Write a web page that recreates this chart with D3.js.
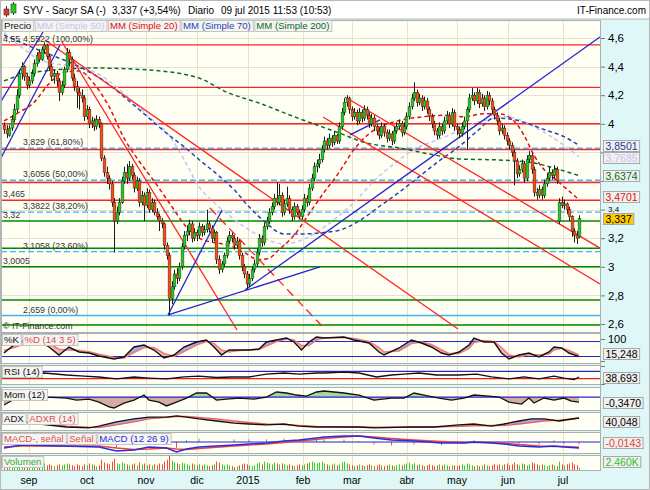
<!DOCTYPE html>
<html><head><meta charset="utf-8">
<script src="https://cdn.jsdelivr.net/npm/d3@7/dist/d3.min.js"></script>
<style>html,body{margin:0;padding:0;background:#fff;}svg{display:block;font-family:"Liberation Sans",Arial,sans-serif;}</style>
</head><body>
<svg id="chart" width="650" height="490"></svg>
<script>
// ================= DATA =================
const monthLabels = ["sep","oct","nov","dic","2015","feb","mar","abr","may","jun","jul"];
const monthIdx    = [10,33.2,56.8,77.2,97.6,119.6,139.2,161.2,181.2,201.6,223.6];
const priceTicks      = [2.6,2.8,3,3.2,3.4,3.6,3.8,4,4.2,4.4,4.6];
const priceTickLabels = ["2,6","2,8","3","3,2","3,4","","","4","4,2","4,4","4,6"]; // 3,6 and 3,8 are covered by value boxes

const opens = [
3.99,3.96,3.92,3.97,4.03,4.10,4.20,4.35,4.40,4.33,
4.27,4.30,4.35,4.42,4.50,4.45,4.52,4.55,4.47,4.40,
4.33,4.35,4.30,4.22,4.27,4.38,4.50,4.45,4.32,4.26,
4.22,4.20,4.18,4.05,4.10,4.00,4.02,3.98,4.03,4.00,
3.76,3.66,3.62,3.58,3.45,3.32,3.38,3.45,3.60,3.66,
3.62,3.70,3.64,3.55,3.60,3.45,3.50,3.43,3.52,3.40,
3.45,3.38,3.35,3.32,3.30,3.15,3.08,2.78,2.86,2.95,
2.92,3.00,3.14,3.22,3.25,3.30,3.20,3.24,3.22,3.28,
3.24,3.26,3.30,3.27,3.20,3.24,3.05,2.98,3.02,3.08,
3.18,3.22,3.20,3.15,3.18,3.08,3.00,2.95,2.88,2.92,
2.98,3.02,3.10,3.20,3.17,3.28,3.32,3.38,3.42,3.48,
3.45,3.50,3.38,3.44,3.48,3.40,3.35,3.42,3.38,3.35,
3.40,3.48,3.45,3.55,3.62,3.70,3.72,3.75,3.82,3.88,
3.85,3.90,3.87,3.92,3.88,3.98,4.08,4.15,4.18,4.10,
4.05,4.08,4.02,4.08,4.04,4.10,4.06,4.00,4.04,3.98,
3.95,3.92,3.98,3.94,3.90,3.93,3.88,3.95,3.98,4.00,
3.94,3.98,4.05,4.12,4.18,4.22,4.15,4.18,4.12,4.16,
4.10,4.05,4.00,3.95,3.92,3.98,3.95,4.02,4.06,4.00,
4.08,3.98,3.96,3.93,3.98,4.02,4.10,4.18,4.20,4.16,
4.22,4.14,4.18,4.12,4.20,4.16,4.10,4.06,4.02,3.95,
3.97,3.92,3.88,3.85,3.80,3.74,3.65,3.68,3.72,3.62,
3.75,3.78,3.68,3.52,3.50,3.54,3.50,3.58,3.62,3.66,
3.64,3.68,3.32,3.45,3.43,3.44,3.40,3.35,3.25,3.22,
3.21];
const highs = [
4.01,3.99,3.99,4.06,4.14,4.24,4.38,4.43,4.41,4.35,
4.33,4.38,4.45,4.50,4.52,4.54,4.57,4.56,4.49,4.42,
4.38,4.37,4.32,4.30,4.40,4.53,4.52,4.47,4.35,4.30,
4.25,4.24,4.20,4.13,4.12,4.05,4.04,4.06,4.05,4.01,
3.78,3.70,3.64,3.60,3.48,3.42,3.48,3.63,3.70,3.72,
3.74,3.72,3.66,3.63,3.62,3.53,3.52,3.55,3.54,3.48,
3.47,3.41,3.37,3.34,3.31,3.17,3.10,2.90,2.98,2.99,
3.03,3.17,3.25,3.29,3.33,3.32,3.27,3.26,3.31,3.30,
3.29,3.40,3.32,3.29,3.26,3.25,3.08,3.04,3.10,3.21,
3.25,3.24,3.22,3.21,3.19,3.10,3.02,2.97,2.95,3.00,
3.05,3.13,3.23,3.22,3.31,3.35,3.41,3.45,3.51,3.59,
3.58,3.52,3.47,3.56,3.50,3.42,3.45,3.44,3.40,3.43,
3.51,3.50,3.58,3.65,3.73,3.75,3.79,3.85,3.91,3.90,
3.93,3.92,3.95,3.93,4.01,4.11,4.18,4.20,4.19,4.12,
4.11,4.10,4.11,4.10,4.13,4.12,4.08,4.07,4.06,4.00,
3.97,4.01,4.00,3.96,3.96,3.95,3.98,4.01,4.03,4.02,
4.01,4.08,4.15,4.21,4.29,4.24,4.21,4.20,4.19,4.18,
4.12,4.07,4.02,3.97,4.01,4.00,4.05,4.09,4.08,4.11,
4.10,4.00,3.98,4.01,4.05,4.12,4.21,4.25,4.22,4.25,
4.24,4.21,4.20,4.23,4.22,4.18,4.12,4.08,4.04,4.00,
3.99,3.94,3.90,3.87,3.82,3.76,3.71,3.75,3.74,3.78,
3.81,3.80,3.70,3.55,3.57,3.56,3.61,3.65,3.70,3.68,
3.71,3.70,3.48,3.49,3.47,3.45,3.42,3.36,3.27,3.25,
3.36];
const lows = [
3.93,3.90,3.91,3.95,4.01,4.08,4.18,4.31,4.30,4.24,
4.25,4.28,4.33,4.40,4.43,4.44,4.49,4.45,4.37,4.30,
4.28,4.26,4.16,4.20,4.25,4.36,4.40,4.30,4.23,4.11,
4.10,4.15,4.02,4.03,3.97,3.97,3.95,3.96,3.97,3.74,
3.63,3.58,3.54,3.42,3.10,3.30,3.36,3.44,3.58,3.58,
3.60,3.61,3.52,3.53,3.42,3.43,3.32,3.41,3.38,3.38,
3.36,3.33,3.25,3.27,3.12,3.05,2.659,2.74,2.84,2.88,
2.90,2.98,3.12,3.18,3.22,3.17,3.18,3.18,3.20,3.21,
3.22,3.24,3.24,3.17,3.18,3.02,2.95,2.96,3.00,3.06,
3.16,3.17,3.12,3.13,3.05,2.97,2.92,2.84,2.86,2.90,
2.96,3.00,3.08,3.14,3.15,3.26,3.30,3.36,3.40,3.43,
3.43,3.35,3.36,3.42,3.37,3.32,3.33,3.36,3.33,3.33,
3.38,3.42,3.43,3.53,3.60,3.66,3.69,3.73,3.80,3.82,
3.83,3.84,3.85,3.86,3.86,3.96,4.06,4.12,4.07,4.02,
4.03,3.99,4.00,4.01,4.02,4.03,3.97,3.98,3.95,3.92,
3.89,3.90,3.91,3.87,3.88,3.85,3.86,3.93,3.96,3.91,
3.92,3.96,4.03,4.10,4.16,4.12,4.13,4.09,4.10,4.07,
4.02,3.97,3.92,3.89,3.90,3.92,3.93,4.00,3.97,3.98,
3.95,3.92,3.90,3.91,3.96,3.82,4.08,4.16,4.13,4.14,
4.11,4.12,4.09,4.10,4.13,4.07,4.03,3.99,3.92,3.93,
3.89,3.85,3.82,3.77,3.57,3.62,3.63,3.66,3.59,3.60,
3.73,3.65,3.49,3.47,3.48,3.47,3.48,3.56,3.60,3.61,
3.62,3.58,3.30,3.41,3.40,3.37,3.32,3.21,3.17,3.16,
3.20];
const closes = [
3.96,3.93,3.97,4.03,4.10,4.20,4.35,4.40,4.33,4.27,
4.30,4.35,4.42,4.48,4.45,4.52,4.55,4.47,4.40,4.33,
4.35,4.30,4.22,4.27,4.38,4.50,4.45,4.32,4.26,4.22,
4.20,4.18,4.05,4.10,4.00,4.02,3.98,4.03,4.00,3.76,
3.66,3.62,3.58,3.45,3.32,3.38,3.45,3.60,3.66,3.62,
3.70,3.64,3.55,3.60,3.45,3.50,3.43,3.52,3.40,3.45,
3.38,3.35,3.32,3.30,3.15,3.08,2.78,2.86,2.95,2.92,
3.00,3.14,3.22,3.25,3.30,3.20,3.24,3.22,3.28,3.24,
3.26,3.30,3.27,3.20,3.24,3.05,2.98,3.02,3.08,3.18,
3.22,3.20,3.15,3.18,3.08,3.00,2.95,2.88,2.92,2.98,
3.02,3.10,3.20,3.17,3.28,3.32,3.38,3.42,3.48,3.45,
3.50,3.38,3.44,3.48,3.40,3.35,3.42,3.38,3.35,3.40,
3.48,3.45,3.55,3.62,3.70,3.72,3.75,3.82,3.88,3.85,
3.90,3.87,3.92,3.88,3.98,4.08,4.15,4.18,4.10,4.05,
4.08,4.02,4.08,4.04,4.10,4.06,4.00,4.04,3.98,3.95,
3.92,3.98,3.94,3.90,3.93,3.88,3.95,3.98,4.00,3.94,
3.98,4.05,4.12,4.18,4.22,4.15,4.18,4.12,4.16,4.10,
4.05,4.00,3.95,3.92,3.98,3.95,4.02,4.06,4.00,4.08,
3.98,3.96,3.93,3.98,4.02,4.10,4.18,4.20,4.16,4.22,
4.14,4.18,4.12,4.20,4.16,4.10,4.06,4.02,3.95,3.97,
3.92,3.88,3.85,3.80,3.74,3.65,3.68,3.72,3.62,3.75,
3.78,3.68,3.52,3.50,3.54,3.50,3.58,3.62,3.66,3.64,
3.68,3.60,3.45,3.43,3.44,3.40,3.35,3.25,3.22,3.20,
3.337];
const volumes = [ // millions
5,6,4,5,7,8,9,6,5,4, 5,6,7,6,5,6,7,5,6,5, 4,5,6,5,6,7,6,5,4,6, 5,4,6,5,7,6,5,4,5,11,
8,7,6,9,12,7,6,8,7,6, 5,6,7,5,8,6,7,5,6,5, 6,5,7,6,9,11,15,10,8,7, 6,8,7,6,5,7,6,5,6,5,
6,5,4,5,6,9,8,6,5,6, 5,4,3,4,5,6,7,6,5,4, 5,7,8,6,9,8,7,6,8,7, 6,7,6,5,6,5,4,5,6,5,
6,7,8,9,8,7,8,9,7,6, 5,6,7,5,6,8,9,7,6,5, 4,5,6,5,4,5,6,5,4,5, 6,5,4,5,6,5,4,5,6,5,
6,7,8,6,7,5,6,5,4,5, 6,5,4,5,6,5,6,5,4,5, 5,4,5,6,5,7,6,5,4,5, 4,5,6,5,4,5,6,5,6,5,
6,7,5,6,8,6,5,7,6,5, 6,8,7,6,5,6,5,4,5,6, 5,4,9,6,5,6,7,8,6,5, 2.46];

// moving averages, read at sampled sessions: [session index, value]
const sma20  = [[0,4.02],[6,4.08],[12,4.15],[18,4.28],[24,4.36],[30,4.37],[36,4.28],[42,4.12],[48,3.9],[54,3.74],[60,3.6],[66,3.45],[72,3.3],[78,3.2],[84,3.17],[90,3.15],[96,3.1],[102,3.05],[106,3.06],[110,3.12],[116,3.22],[122,3.37],[128,3.52],[134,3.66],[140,3.82],[146,3.93],[152,3.99],[160,4.03],[168,4.05],[176,4.06],[184,4.05],[192,4.07],[198,4.07],[204,4.02],[208,3.92],[212,3.78],[216,3.68],[220,3.62],[224,3.56],[228,3.5],[230,3.4701]];
const sma50  = [[0,4.64],[6,4.55],[12,4.47],[20,4.42],[26,4.41],[34,4.38],[42,4.3],[50,4.18],[58,4.05],[66,3.92],[72,3.75],[78,3.56],[84,3.45],[90,3.36],[97,3.27],[104,3.2],[112,3.16],[118,3.18],[125,3.24],[132,3.33],[140,3.45],[148,3.6],[156,3.72],[164,3.82],[172,3.88],[178,3.92],[186,3.99],[194,4.03],[200,4.05],[206,4.03],[212,3.98],[218,3.92],[224,3.85],[230,3.7685]];
const sma70  = [[0,4.62],[8,4.56],[16,4.5],[22,4.46],[30,4.4],[40,4.3],[50,4.16],[58,4.04],[66,3.92],[72,3.84],[78,3.75],[85,3.65],[92,3.54],[98,3.42],[104,3.32],[112,3.23],[120,3.23],[128,3.24],[135,3.26],[142,3.32],[150,3.42],[158,3.52],[166,3.63],[174,3.74],[182,3.84],[190,3.96],[196,4.04],[204,4.03],[208,4.01],[216,3.96],[224,3.91],[230,3.8501]];
const sma200 = [[0,4.3],[10,4.355],[36,4.39],[58,4.376],[78,4.32],[89,4.222],[102,4.145],[118,4.037],[134,3.936],[145,3.866],[158,3.831],[172,3.782],[182,3.754],[198,3.747],[212,3.726],[220,3.691],[230,3.6374]];

// horizontal levels
const redLevels   = [4.5522,4.255,4.0,3.82,3.59,3.465];
const greenLevels = [3.32,3.13,3.0005,2.768,2.593];
const fibLevels   = [3.829,3.6056,3.3822,3.1058];
const fibZero     = 2.659;
const levelLabels     = ["4,55","3,465","3,32","3,0005"];
const levelLabelVals  = [4.55,3.465,3.32,3.0005];
const fibLabels       = ["4,5522 (100,00%)","3,829 (61,80%)","3,6056 (50,00%)","3,3822 (38,20%)","3,1058 (23,60%)","2,659 (0,00%)"];
const fibLabelVals    = [4.5522,3.829,3.6056,3.3822,3.1058,2.659];

// trend lines: [[session,price],[session,price]]
const redTrend = [[[23.2,4.572],[93.2,2.558]],[[16.4,4.586],[181.6,2.565]],[[136.4,4.187],[238.4,3.131]],[[127.6,4.048],[238.4,2.88]]];
const redDashTrend = [[[82.4,3.411],[127.2,2.586]]];
const blueTrend = [[[-1.6,4.145],[15.6,4.642]],[[-1.6,3.747],[22.4,4.551]],[[65.6,2.663],[87.2,3.397]],[[65.6,2.663],[126.4,2.999]],[[96.4,2.838],[238.4,4.607]],[[138.4,3.922],[150.4,4.027]]];

// Stochastic (14 3 5)
const stochIdx = [0,5,12,18,22,26,30,34,38,44,48,52,56,60,64,68,72,77,81,84,87,90,94,98,102,105,109,113,116,119,122,125,128,136,140,146,150,152,158,163,167,171,175,178,182,186,188,192,196,199,202,206,210,214,218,220,223,226,230];
const stochK = [30,70,90,54,22,54,34,30,18,6,14,54,62,42,10,22,54,74,82,54,22,42,42,42,46,74,82,90,74,42,74,94,90,94,82,70,34,22,50,82,70,54,30,22,34,62,90,74,74,30,6,22,30,14,34,54,50,30,15.248];
const stochD = [40,55,80,70,45,42,40,35,25,12,10,32,52,52,28,16,36,62,76,68,42,34,40,42,44,58,76,86,82,60,60,82,90,92,88,76,52,34,38,68,74,64,42,28,28,48,72,80,76,52,22,14,24,22,26,42,50,40,22];
// RSI (14)
const rsiIdx  = [0,8,16,25,32,38,45,52,58,65,72,78,85,91,98,105,112,118,125,128,136,142,149,155,160,166,173,182,189,195,202,208,214,220,224,228,230];
const rsiVals = [35,50,61,50,44,39,28,39,33,28,40,44,36,39,39,55,61,55,61,61,66,61,39,50,55,61,50,50,55,39,28,39,28,44,33,24,38.693];
// Momentum (12)
const momIdx  = [0,7,12,17,25,29,34,38,42,44,48,52,56,58,62,65,69,73,77,81,85,89,94,100,105,109,113,117,121,125,128,136,142,148,155,160,164,168,174,179,184,188,194,198,202,207,210,212,216,220,224,227,230];
const momVals = [-0.55,0.14,0.2,0,-0.07,-0.21,-0.14,-0.35,-0.69,-0.76,-0.42,-0.21,0.14,-0.21,-0.35,-0.62,-0.35,-0.07,0.28,0.28,-0.21,-0.14,-0.07,-0.14,0,0.35,0.28,0.14,0.07,0.35,0.42,0.28,0.14,-0.21,-0.07,-0.07,0.28,0.14,-0.07,-0.21,-0.07,0.14,0.07,0,-0.35,-0.49,-0.07,-0.42,-0.07,-0.21,-0.07,-0.28,-0.347];
// ADX / ADXR (14)
const adxIdx  = [0,8,17,25,34,38,45,52,58,65,69,73,78,85,92,98,105,112,118,125,142,148,162,172,182,188,195,200,206,211,216,222,230];
const adxVals = [33,27,17,10,7,13,27,37,43,43,47,43,37,30,23,20,17,20,13,10,10,7,10,10,17,20,13,20,30,37,37,30,40.048];
const adxrVals= [30,25,20,13,9,8,17,27,37,42,45,45,42,37,30,25,20,18,15,12,10,9,9,10,12,14,15,15,20,25,30,33,40.048];
// MACD (12 26 9)
const macdIdx  = [0,7,38,45,52,58,65,69,73,78,92,98,105,112,118,125,128,136,142,148,155,164,175,184,188,195,200,206,214,220,224,230];
const macdVals = [-0.12,-0.06,-0.1,-0.18,-0.16,-0.1,-0.12,-0.2,-0.14,-0.1,-0.06,-0.04,-0.02,0.02,0.04,0.08,0.1,0.12,0.12,0.08,0.04,0.02,-0.02,-0.02,0,-0.02,-0.04,-0.08,-0.1,-0.08,-0.1,-0.12];
const signalVals=[-0.1,-0.08,-0.08,-0.12,-0.15,-0.14,-0.12,-0.14,-0.15,-0.13,-0.08,-0.06,-0.04,-0.01,0.02,0.05,0.07,0.1,0.12,0.1,0.07,0.04,0.01,-0.01,-0.01,-0.01,-0.02,-0.05,-0.08,-0.09,-0.09,-0.1057];

// ================= DRAWING =================
const NARROW = '"Liberation Sans Narrow","Arial Narrow","Liberation Sans",Arial,sans-serif';
const svg = d3.select("#chart");
const W = 650, H = 490, PX0 = 1, PX1 = 600;
const C = {bg:"#dff7f7", panel:"#fffff4", border:"#a8b0b0", grid:"#e6e2cc",
  red:"#ff2424", green:"#008a00", fib:"#3ab4ff", blue:"#2525d0",
  up:"#22cc22", down:"#ff4a12"};

svg.append("rect").attr("width",W).attr("height",H).attr("fill",C.bg);

const xs = d3.scaleLinear().domain([0,230]).range([4,579]);

const panels = {
  price:{y0:20,y1:332}, stoch:{y0:333,y1:363}, rsi:{y0:365,y1:384},
  mom:{y0:387,y1:410}, adx:{y0:412,y1:430}, macd:{y0:432,y1:453}, vol:{y0:455,y1:470}
};
const defs = svg.append("defs");
Object.entries(panels).forEach(([k,p])=>{
  svg.append("rect").attr("x",PX0+0.5).attr("y",p.y0+0.5).attr("width",PX1-PX0).attr("height",p.y1-p.y0)
    .attr("fill",C.panel).attr("stroke",C.border);
  defs.append("clipPath").attr("id","clip-"+k).append("rect")
    .attr("x",PX0+1).attr("y",p.y0+1).attr("width",PX1-PX0-1).attr("height",p.y1-p.y0-1);
  svg.append("g").selectAll("line").data(monthIdx).join("line")
    .attr("x1",d=>Math.round(xs(d))+0.5).attr("x2",d=>Math.round(xs(d))+0.5)
    .attr("y1",p.y0+1).attr("y2",p.y1).attr("stroke",C.grid).attr("stroke-width",1);
});

// header
svg.append("rect").attr("x",0.5).attr("y",0.5).attr("width",W-1).attr("height",18.5).attr("fill","#fff").attr("stroke","#b8b8b8");
const ic = svg.append("g");
ic.append("line").attr("x1",6.5).attr("x2",6.5).attr("y1",6).attr("y2",17).attr("stroke","#333");
ic.append("rect").attr("x",4).attr("y",9).attr("width",5).attr("height",6).attr("fill","#e83030").attr("stroke","#333").attr("stroke-width",0.6);
ic.append("line").attr("x1",13.5).attr("x2",13.5).attr("y1",2).attr("y2",15).attr("stroke","#333");
ic.append("rect").attr("x",11).attr("y",4).attr("width",5).attr("height",9).attr("fill","#22cc22").attr("stroke","#333").attr("stroke-width",0.6);
const hdr = [["SYV - Sacyr SA (-)",23],["3,337 (+3,54%)",112],["Diario",188],["09 jul 2015 11:53 (10:53)",221]];
svg.append("g").selectAll("text").data(hdr).join("text").attr("x",d=>d[1]).attr("y",14)
  .attr("font-size",10).attr("fill","#000").text(d=>d[0]);
svg.append("text").attr("x",646).attr("y",14).attr("text-anchor","end").attr("font-size",10).text("IT-Finance.com");

// ---------- PRICE PANEL ----------
const py = d3.scaleLinear().domain([2.6,4.6]).range([324,38]);
const gp = svg.append("g").attr("clip-path","url(#clip-price)");
gp.append("g").selectAll("line").data(priceTicks).join("line")
  .attr("x1",PX0).attr("x2",PX1).attr("y1",d=>Math.round(py(d))+0.5).attr("y2",d=>Math.round(py(d))+0.5)
  .attr("stroke",C.grid);

const hline = (vals,color,dash)=>gp.append("g").selectAll("line").data(vals).join("line")
  .attr("x1",PX0).attr("x2",PX1).attr("y1",d=>py(d)).attr("y2",d=>py(d))
  .attr("stroke",color).attr("stroke-width",1.4).attr("stroke-dasharray",dash||null);
hline(greenLevels,C.green);
hline([fibZero],C.fib);
hline(redLevels,C.red);
hline(fibLevels,C.fib,"6,3");

const maLine = d3.line().x(d=>xs(d[0])).y(d=>py(d[1])).curve(d3.curveMonotoneX);
[[sma200,"#0a6a2a"],[sma50,"#c4c4f2"],[sma70,"#2446b4"],[sma20,"#e01010"]].forEach(([d,c])=>{
  gp.append("path").attr("d",maLine(d)).attr("fill","none").attr("stroke",c).attr("stroke-width",1.5).attr("stroke-dasharray","4,3");
});

const tl = (arr,color,dash)=>gp.append("g").selectAll("line").data(arr).join("line")
  .attr("x1",d=>xs(d[0][0])).attr("y1",d=>py(d[0][1])).attr("x2",d=>xs(d[1][0])).attr("y2",d=>py(d[1][1]))
  .attr("stroke",color).attr("stroke-width",1.3).attr("stroke-dasharray",dash||null);
tl(redTrend,C.red);
tl(redDashTrend,C.red,"9,5");
tl(blueTrend,C.blue);

const idx = d3.range(closes.length);
const cg = gp.append("g");
cg.selectAll("line").data(idx).join("line")
  .attr("x1",i=>Math.round(xs(i))+0.5).attr("x2",i=>Math.round(xs(i))+0.5)
  .attr("y1",i=>py(highs[i])).attr("y2",i=>py(lows[i])).attr("stroke","#1c1c1c").attr("stroke-width",1);
cg.selectAll("rect").data(idx).join("rect")
  .attr("x",i=>Math.round(xs(i))-0.9).attr("width",2.8)
  .attr("y",i=>py(Math.max(opens[i],closes[i])))
  .attr("height",i=>Math.max(1,Math.abs(py(opens[i])-py(closes[i]))))
  .attr("fill",i=>closes[i]>=opens[i]?C.up:C.down).attr("stroke","#2a2a2a").attr("stroke-width",0.45);

const lab = svg.append("g").attr("font-size",8.8).attr("fill","#333");
lab.selectAll("text.l").data(levelLabels).join("text").attr("class","l").attr("x",3)
  .attr("y",(d,i)=>py(levelLabelVals[i])-3).text(d=>d);
lab.selectAll("text.f").data(fibLabels).join("text").attr("class","f").attr("x",23)
  .attr("y",(d,i)=>py(fibLabelVals[i])-3).text(d=>d);
svg.append("text").attr("x",3).attr("y",329).attr("font-size",8.8).attr("fill","#333").text("© IT-Finance.com");

function legendRow(items,x,y,h){
  let cx = x;
  items.forEach(([t,col])=>{
    const g = svg.append("g");
    const r = g.append("rect").attr("y",y+0.5).attr("height",h).attr("fill","#f4f4f0").attr("stroke","#c4c4c4");
    const tx = g.append("text").attr("x",cx+2).attr("y",y+h-2).attr("font-size",9.6).attr("fill",col).text(t);
    const w = tx.node().getComputedTextLength()+4;
    r.attr("x",cx+0.5).attr("width",w);
    cx += w+1.5;
  });
}
legendRow([["Precio","#111"],["MM (Simple 50)","#c4c4f2"],["MM (Simple 20)","#e01010"],["MM (Simple 70)","#2446b4"],["MM (Simple 200)","#0a6a2a"]],2,20,11);

// ---------- right axis ----------
svg.append("line").attr("x1",PX1+0.5).attr("x2",PX1+0.5).attr("y1",20).attr("y2",470).attr("stroke",C.border);
const pax = svg.append("g").attr("transform",`translate(${PX1+1},0)`)
  .call(d3.axisRight(py).tickValues(priceTicks).tickSize(4).tickFormat((d,i)=>priceTickLabels[i]));
pax.select(".domain").remove();
pax.selectAll("line").attr("stroke","#777");
pax.selectAll("text").attr("font-size",11.5).attr("font-family",NARROW).attr("fill","#000").attr("x",7);
pax.selectAll("text").filter(d=>d===3.4).attr("font-size",8).attr("dy","0.2em");

function valueBox(y,text,color,bg){
  const g = svg.append("g");
  const top = Math.round(y-5.5);
  const r = g.append("rect").attr("x",603.5).attr("y",top+0.5).attr("height",11).attr("fill",bg||"#f0f0ee").attr("stroke","#a8a8a8");
  const t = g.append("text").attr("x",605.5).attr("y",top+9.5).attr("font-size",10.5).attr("font-family",NARROW).attr("fill",color).text(text);
  r.attr("width",t.node().getComputedTextLength()+4);
}

// ---------- STOCHASTIC ----------
const sy = d3.scaleLinear().domain([0,100]).range([360.5,335.5]);
const gs = svg.append("g").attr("clip-path","url(#clip-stoch)");
const sData = stochIdx.map((d,i)=>({i:d,k:stochK[i],d:stochD[i]}));
const areaS = (yA,yB)=>d3.area().x(d=>xs(d.i)).y0(yA).y1(yB);
defs.append("clipPath").attr("id","s-aboveD").append("path").attr("d",areaS(()=>panels.stoch.y0,d=>sy(d.d))(sData));
defs.append("clipPath").attr("id","s-belowD").append("path").attr("d",areaS(()=>panels.stoch.y1,d=>sy(d.d))(sData));
gs.append("path").attr("d",areaS(()=>panels.stoch.y1,d=>sy(d.k))(sData)).attr("clip-path","url(#s-aboveD)").attr("fill","#a9a9e6");
gs.append("path").attr("d",areaS(()=>panels.stoch.y0,d=>sy(d.k))(sData)).attr("clip-path","url(#s-belowD)").attr("fill","#f4b4b4");
gs.selectAll("line.lv").data([80,20]).join("line").attr("class","lv").attr("x1",PX0).attr("x2",PX1)
  .attr("y1",d=>Math.round(sy(d))+0.5).attr("y2",d=>Math.round(sy(d))+0.5).attr("stroke",C.blue).attr("stroke-width",1.2);
gs.append("path").attr("d",d3.line().x(d=>xs(d.i)).y(d=>sy(d.d))(sData)).attr("fill","none").attr("stroke","#f07878").attr("stroke-width",1.5);
gs.append("path").attr("d",d3.line().x(d=>xs(d.i)).y(d=>sy(d.k))(sData)).attr("fill","none").attr("stroke","#111").attr("stroke-width",1.4);

// ---------- RSI ----------
const ry = d3.scaleLinear().domain([0,100]).range([384,366]);
const gr = svg.append("g").attr("clip-path","url(#clip-rsi)");
gr.append("line").attr("x1",PX0).attr("x2",PX1).attr("y1",ry(70)).attr("y2",ry(70)).attr("stroke",C.blue).attr("stroke-width",1.2);
gr.append("line").attr("x1",PX0).attr("x2",PX1).attr("y1",ry(30)).attr("y2",ry(30)).attr("stroke","#e02020").attr("stroke-width",1.2);
gr.append("path").attr("d",d3.line().x(d=>xs(d)).y((d,i)=>ry(rsiVals[i]))(rsiIdx)).attr("fill","none").attr("stroke","#111").attr("stroke-width",1.3);

// ---------- MOMENTUM ----------
const my = d3.scaleLinear().domain([-0.7,0.6]).range([407.1,388.4]);
const gm = svg.append("g").attr("clip-path","url(#clip-mom)");
const mData = momIdx.map((d,i)=>({i:d,v:momVals[i]}));
defs.append("clipPath").attr("id","m-above").append("rect").attr("x",0).attr("y",0).attr("width",W).attr("height",my(0));
defs.append("clipPath").attr("id","m-below").append("rect").attr("x",0).attr("y",my(0)).attr("width",W).attr("height",H);
const mArea = d3.area().x(d=>xs(d.i)).y0(my(0)).y1(d=>my(d.v));
gm.append("path").attr("d",mArea(mData)).attr("clip-path","url(#m-above)").attr("fill","#a6d6a0");
gm.append("path").attr("d",mArea(mData)).attr("clip-path","url(#m-below)").attr("fill","#d8aaa4");
gm.append("line").attr("x1",PX0).attr("x2",PX1).attr("y1",my(0)).attr("y2",my(0)).attr("stroke",C.blue).attr("stroke-width",1.2);
gm.append("path").attr("d",d3.line().x(d=>xs(d.i)).y(d=>my(d.v))(mData)).attr("fill","none").attr("stroke","#111").attr("stroke-width",1.3);

// ---------- ADX ----------
const ay = d3.scaleLinear().domain([0,60]).range([430,412]);
const ga = svg.append("g").attr("clip-path","url(#clip-adx)");
const aData = adxIdx.map((d,i)=>({i:d,a:adxVals[i],r:adxrVals[i]}));
const areaA = (yA,yB)=>d3.area().x(d=>xs(d.i)).y0(yA).y1(yB);
defs.append("clipPath").attr("id","a-aboveR").append("path").attr("d",areaA(()=>panels.adx.y0,d=>ay(d.r))(aData));
defs.append("clipPath").attr("id","a-belowR").append("path").attr("d",areaA(()=>panels.adx.y1,d=>ay(d.r))(aData));
ga.append("path").attr("d",areaA(()=>panels.adx.y1,d=>ay(d.a))(aData)).attr("clip-path","url(#a-aboveR)").attr("fill","#a9a9e6");
ga.append("path").attr("d",areaA(()=>panels.adx.y0,d=>ay(d.a))(aData)).attr("clip-path","url(#a-belowR)").attr("fill","#f4b4b4");
ga.append("path").attr("d",d3.line().x(d=>xs(d.i)).y(d=>ay(d.r))(aData)).attr("fill","none").attr("stroke","#f06060").attr("stroke-width",1.4);
ga.append("path").attr("d",d3.line().x(d=>xs(d.i)).y(d=>ay(d.a))(aData)).attr("fill","none").attr("stroke","#111").attr("stroke-width",1.3);

// ---------- MACD ----------
const cy = d3.scaleLinear().domain([-0.2,0.2]).range([452,432]);
const gc = svg.append("g").attr("clip-path","url(#clip-macd)");
const cData = macdIdx.map((d,i)=>({i:d,m:macdVals[i],s:signalVals[i]}));
gc.selectAll("line.h").data(cData).join("line").attr("class","h")
  .attr("x1",d=>xs(d.i)).attr("x2",d=>xs(d.i)).attr("y1",cy(0)).attr("y2",d=>cy(0)-(cy(0)-cy(d.m-d.s))*1.6-(d.m>=d.s?1:-1))
  .attr("stroke",d=>d.m>=d.s?"#40c040":"#f05050").attr("stroke-width",1);
gc.append("line").attr("x1",PX0).attr("x2",PX1).attr("y1",cy(0)).attr("y2",cy(0)).attr("stroke",C.blue).attr("stroke-width",1.2);
gc.append("path").attr("d",d3.line().x(d=>xs(d.i)).y(d=>cy(d.s))(cData)).attr("fill","none").attr("stroke","#f04040").attr("stroke-width",1.4);
gc.append("path").attr("d",d3.line().x(d=>xs(d.i)).y(d=>cy(d.m))(cData)).attr("fill","none").attr("stroke","#2a2ae0").attr("stroke-width",1.4);

// ---------- VOLUME ----------
const vy = d3.scaleLinear().domain([0,16]).range([470,455]);
const gv = svg.append("g").attr("clip-path","url(#clip-vol)");
gv.selectAll("line").data(idx).join("line")
  .attr("x1",i=>Math.round(xs(i))+0.5).attr("x2",i=>Math.round(xs(i))+0.5)
  .attr("y1",vy(0)).attr("y2",i=>vy(volumes[i]))
  .attr("stroke",i=>closes[i]>=opens[i]?"#30d030":"#f04a3a").attr("stroke-width",1);

legendRow([["%K","#111"],["%D (14 3 5)","#e05050"]],2,334,11);
legendRow([["RSI (14)","#111"]],2,366,11);
legendRow([["Mom (12)","#111"]],2,389,11);
legendRow([["ADX","#111"],["ADXR (14)","#e05050"]],2,413,11);
legendRow([["MACD-, señal","#e05050"],["Señal","#e05050"],["MACD (12 26 9)","#2a2ae0"]],2,433,11);
legendRow([["Volumen","#30b030"]],2,456,11);

svg.append("line").attr("x1",PX1+1).attr("x2",PX1+5).attr("y1",339.5).attr("y2",339.5).attr("stroke","#777");
svg.append("text").attr("x",PX1+8).attr("y",343).attr("font-size",11).attr("font-family",NARROW).text("100");
[Math.round(sy(0))+0.5, Math.round(ry(100))+0.5, Math.round(ry(0))+0.5].forEach(y=>
  svg.append("line").attr("x1",PX1+1).attr("x2",PX1+5).attr("y1",y).attr("y2",y).attr("stroke","#777"));

const pBoxes = [[3.8501,"3,8501","#1a3c9c"],[3.7685,"3,7685","#c4c4f2"],[3.6374,"3,6374","#0a6a2a"],[3.4701,"3,4701","#e01010"],[3.337,"3,337","#000","#ffcc00"]];
let lastY = -1e9;
pBoxes.forEach(b=>{ let y = py(b[0]); if (b[0]===3.4701) y -= 3; if (y-lastY<12) y = lastY+12; lastY = y; valueBox(y,b[1],b[2],b[3]); });
valueBox(353,"15,248","#000");
valueBox(ry(38.693),"38,693","#000");
valueBox(my(-0.347),"-0,3470","#000");
valueBox(421,"40,048","#000");
valueBox(cy(-0.0143),"-0,0143","#e04040");
valueBox(461.5,"2.460K","#30c030");

svg.append("g").selectAll("text").data(monthLabels).join("text")
  .attr("x",(d,i)=>xs(monthIdx[i])).attr("y",484).attr("text-anchor","middle").attr("font-size",10.5).text(d=>d);

svg.append("rect").attr("x",0.5).attr("y",0.5).attr("width",W-1).attr("height",H-1).attr("fill","none").attr("stroke","#b8b8b8");
</script>
</body></html>
